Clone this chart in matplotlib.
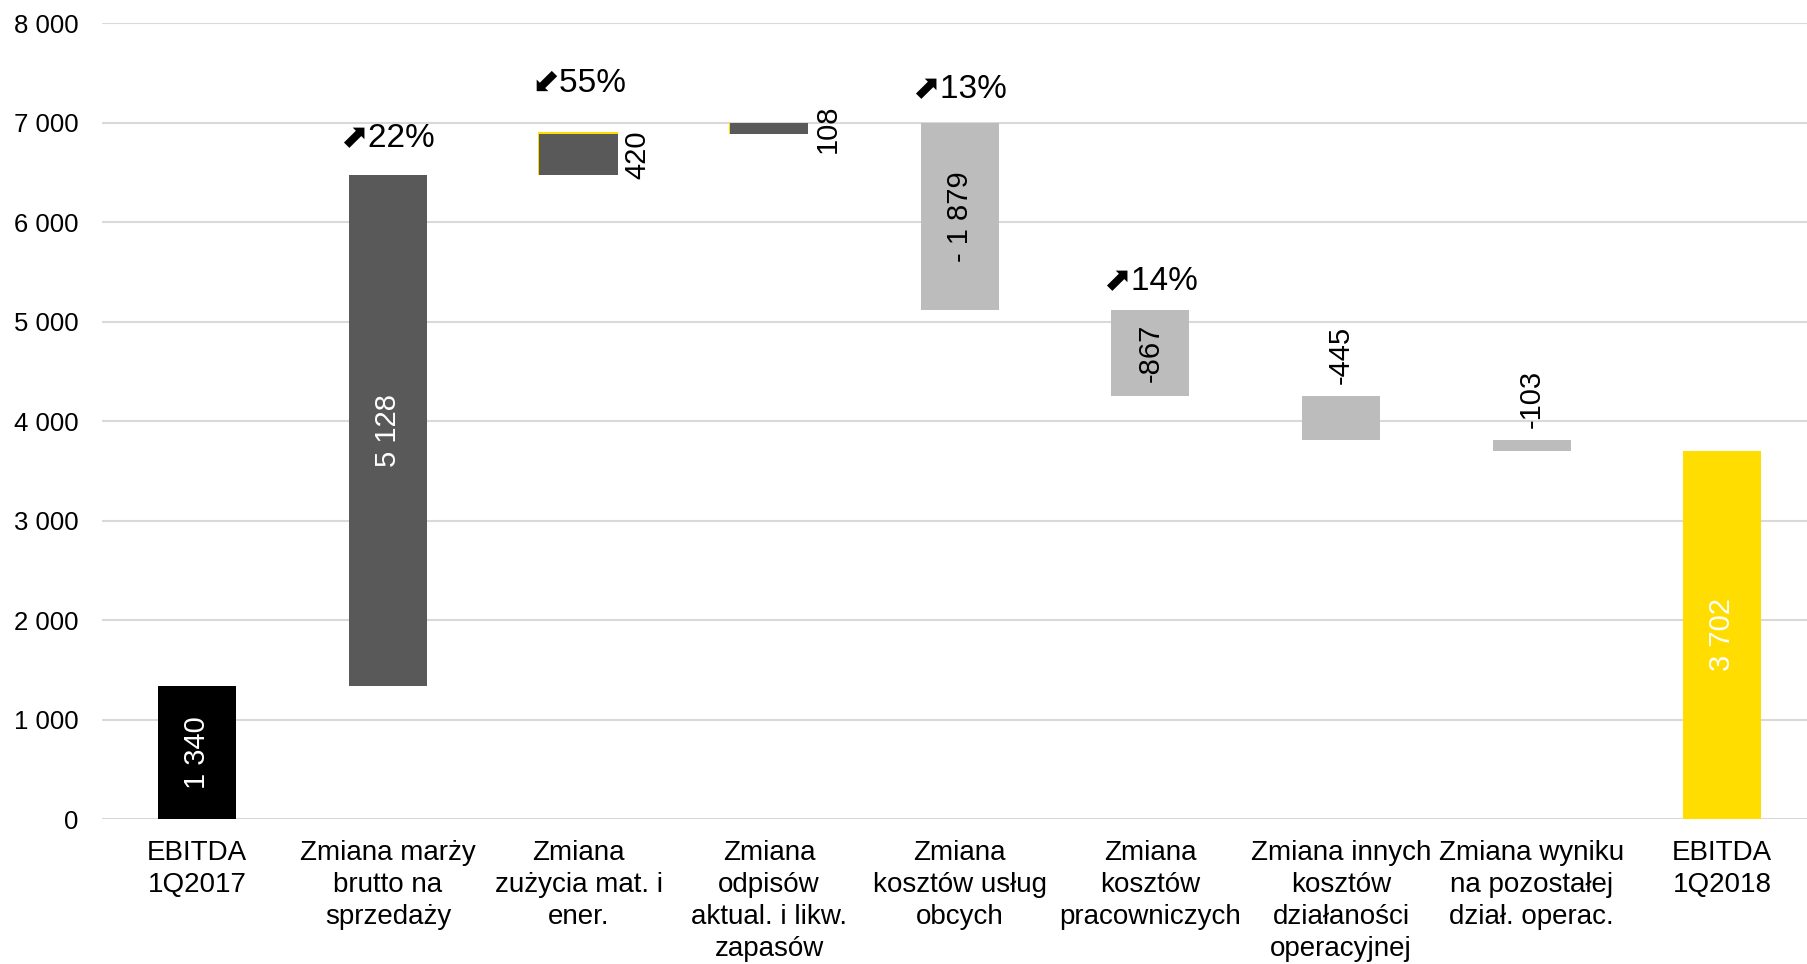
import matplotlib.pyplot as plt
from matplotlib.ticker import FuncFormatter

plt.rcParams['font.family'] = ['Liberation Sans', 'DejaVu Sans']

kategorie = ['EBITDA\n1Q2017', 'Zmiana marży\nbrutto na\nsprzedaży', 'Zmiana\nzużycia mat. i\nener.',
             'Zmiana\nodpisów\naktual. i likw.\nzapasów', 'Zmiana\nkosztów usług\nobcych',
             'Zmiana\nkosztów\npracowniczych', 'Zmiana innych\nkosztów\ndziałaności\noperacyjnej',
             'Zmiana wyniku\nna pozostałej\ndział. operac.', 'EBITDA\n1Q2018']
zmiany = [1340, 5128, 420, 108, -1879, -867, -445, -103]
koniec = 3702
etykiety = ['1 340', '5 128', '420', '108', '- 1 879', '-867', '-445', '-103', '3 702']
procenty = {1: '\u2b0822%', 2: '\u2b0b55%', 4: '\u2b0813%', 5: '\u2b0814%'}

# podstawy i wysokości słupków
dol, wys = [], []
suma = 0
for i, z in enumerate(zmiany):
    if i == 0:
        dol.append(0)
        wys.append(z)
    else:
        dol.append(suma + min(z, 0))
        wys.append(abs(z))
    suma += z
dol.append(0)
wys.append(koniec)

kolory = ['#000000'] + ['#595959' if z > 0 else '#bcbcbc' for z in zmiany[1:]] + ['#ffdd00']

fig = plt.figure(figsize=(18.08, 9.64), dpi=100)
ax = fig.add_axes([0.0564, 0.1504, 0.9436, 0.8257])
x = range(len(kategorie))
szer = 0.41

# cienki żółty brzeg (góra i lewa strona) przy słupkach 3 i 4
for i in (2, 3):
    ax.bar(i - szer / 2 - 0.006, wys[i] + (12 if i == 2 else 0), bottom=dol[i], width=szer + 0.006,
           align='edge', color='#ffdd00', zorder=2)
ax.bar(x, wys, bottom=dol, width=szer, color=kolory, zorder=3)

for i in x:
    srodek = dol[i] + wys[i] / 2
    gora = dol[i] + wys[i]
    if i in (0, 1, 8):
        ax.text(i, srodek, etykiety[i], rotation=90, ha='center', va='center', color='white', fontsize=21, zorder=4)
    elif i in (4, 5):
        ax.text(i, srodek, etykiety[i], rotation=90, ha='center', va='center', color='black', fontsize=21, zorder=4)
    elif i in (2, 3):
        ax.annotate(etykiety[i], (i + szer / 2, srodek), xytext=(4, 0), textcoords='offset points',
                    rotation=90, ha='left', va='center', fontsize=21)
    else:
        ax.annotate(etykiety[i], (i, gora), xytext=(0, 9), textcoords='offset points',
                    rotation=90, ha='center', va='bottom', fontsize=21)

przes = {1: 27, 2: 36, 4: 25, 5: 21}
for i, t in procenty.items():
    ax.annotate(t, (i, dol[i] + wys[i]), xytext=(0, przes[i]), textcoords='offset points',
                ha='center', va='center', fontsize=24)

ax.set_ylim(0, 8000)
ax.set_xlim(-0.5, 8.45)
ax.set_yticks(range(0, 8001, 1000))
ax.yaxis.set_major_formatter(FuncFormatter(lambda v, p: f'{int(v):,}'.replace(',', ' ')))
ax.set_xticks(list(x))
ax.set_xticklabels(kategorie, fontsize=20, linespacing=1.3)
ax.tick_params(axis='y', labelsize=18.5, length=0, pad=17)
ax.tick_params(axis='x', length=0, pad=15)
ax.grid(axis='y', color='#d9d9d9', linewidth=1.5, zorder=0)
ax.set_axisbelow(True)
for s in ax.spines.values():
    s.set_visible(False)

fig.savefig('out.png', dpi=100)
